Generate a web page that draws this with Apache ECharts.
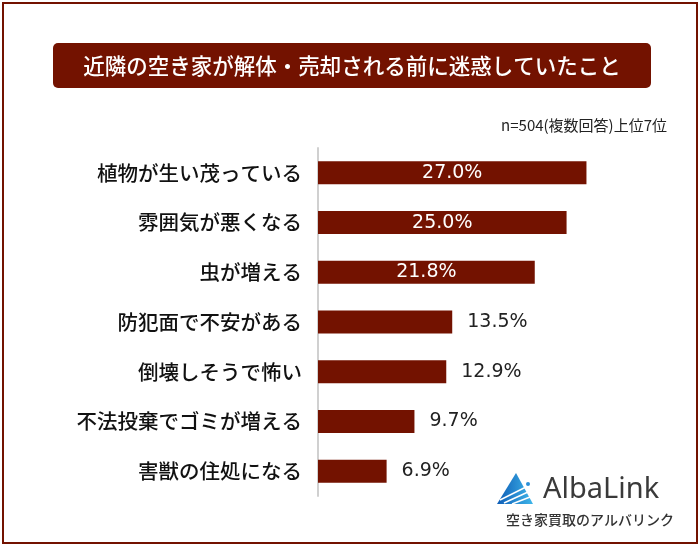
<!DOCTYPE html>
<html>
<head>
<meta charset="utf-8">
<script src="https://cdn.jsdelivr.net/npm/echarts@6/dist/echarts.min.js"></script>
<style>
  html, body { margin: 0; padding: 0; background: #fff; }
  #chart { width: 700px; height: 546px; }
</style>
</head>
<body>
<div id="chart"></div>
<script>
// データ
const categories = ['植物が生い茂っている', '雰囲気が悪くなる', '虫が増える', '防犯面で不安がある', '倒壊しそうで怖い', '不法投棄でゴミが増える', '害獣の住処になる'];
const values = [27.0, 25.0, 21.8, 13.5, 12.9, 9.7, 6.9];
const titleText = '近隣の空き家が解体・売却される前に迷惑していたこと';
const noteText = 'n=504(複数回答)上位7位';

const MAIN = '#731200';
const JP = '"Noto Sans CJK JP", "Noto Sans", sans-serif';

const chartInstance = echarts.init(document.getElementById('chart'));

// 値ラベル：大きい値は棒の中、それ以外は外側
const barData = values.map((v) => ({
  value: v,
  label: v >= 20
    ? { position: 'inside', color: '#fff' }
    : { position: 'right', distance: 15, color: '#222' },
}));

const option = {
  animation: false,
  grid: { left: 318, top: 148, width: 348, height: 348, containLabel: false },
  xAxis: {
    type: 'value',
    min: 0,
    max: 35,
    show: false,
  },
  yAxis: {
    type: 'category',
    data: categories,
    inverse: true,
    axisLine: { show: true, lineStyle: { color: '#d0d0d0', width: 2 } },
    axisTick: { show: false },
    axisLabel: { color: '#111', fontSize: 20.5, fontWeight: 500, fontFamily: JP, margin: 16 },
  },
  series: [
    {
      type: 'bar',
      data: barData,
      barWidth: 23,
      itemStyle: { color: MAIN },
      label: {
        show: true,
        fontSize: 19,
        fontFamily: '"DejaVu Sans", sans-serif',
        formatter: (p) => p.value.toFixed(1) + '%',
      },
    },
  ],
  graphic: [
    // 外枠
    { type: 'rect', shape: { x: 3, y: 3, width: 694, height: 540 }, style: { fill: 'none', stroke: MAIN, lineWidth: 2 } },
    // タイトル
    { type: 'rect', shape: { x: 53, y: 43, width: 598, height: 45, r: 5 }, style: { fill: MAIN } },
    { type: 'text', x: 352, y: 66, style: { text: titleText, fill: '#fff', fontSize: 21.5, fontWeight: 500, fontFamily: JP, align: 'center', verticalAlign: 'middle' } },
    { type: 'text', x: 667, y: 125, style: { text: noteText, fill: '#222', fontSize: 15, fontFamily: JP, align: 'right', verticalAlign: 'middle' } },
    // ロゴ
    {
      type: 'polygon',
      shape: { points: [[497, 504], [516, 473], [533, 504]] },
      style: {
        fill: new echarts.graphic.LinearGradient(0, 0, 1, 0, [
          { offset: 0, color: '#0d5cb6' },
          { offset: 1, color: '#3fb6ea' },
        ]),
      },
    },
    { type: 'polyline', shape: { points: [[500, 500], [526, 487]] }, style: { stroke: '#fff', lineWidth: 1.5 } },
    { type: 'polyline', shape: { points: [[504, 503], [528, 492]] }, style: { stroke: '#fff', lineWidth: 1.5 } },
    { type: 'polyline', shape: { points: [[512, 504], [530, 497]] }, style: { stroke: '#fff', lineWidth: 1.5 } },
    { type: 'circle', shape: { cx: 528, cy: 484, r: 2 }, style: { fill: '#2a8fd8' } },
    { type: 'text', x: 543, y: 490, style: { text: 'AlbaLink', fill: '#3a3a3a', fontSize: 29, fontFamily: '"Noto Sans", sans-serif', verticalAlign: 'middle' } },
    { type: 'text', x: 590, y: 520, style: { text: '空き家買取のアルバリンク', fill: '#333', fontSize: 14, fontWeight: 500, fontFamily: JP, align: 'center', verticalAlign: 'middle' } },
  ],
};

chartInstance.setOption(option);
</script>
</body>
</html>
